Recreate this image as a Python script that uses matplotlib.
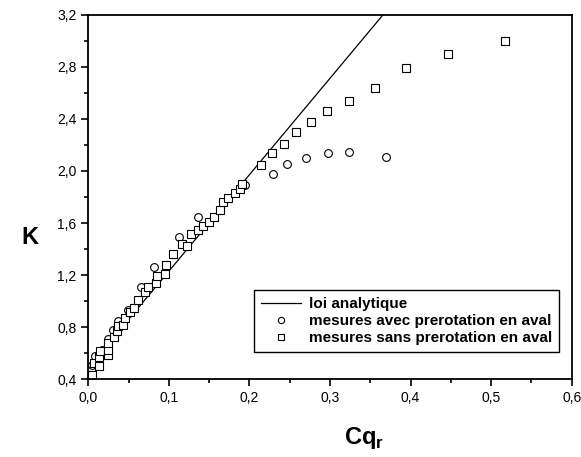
import numpy as np
import matplotlib
matplotlib.use("Agg")
import matplotlib.pyplot as plt
from matplotlib.ticker import MultipleLocator, FuncFormatter

plt.rcParams['font.family'] = ['Liberation Sans', 'DejaVu Sans']

# analytic law (straight line)
line_cq = [0.0, 0.366]
line_k = [0.49, 3.2]

# measurements with downstream prerotation (circles)
avec_cq = [0.005, 0.0083, 0.0166, 0.025, 0.031, 0.037, 0.049, 0.065, 0.082,
           0.113, 0.1365, 0.194, 0.2295, 0.246, 0.270, 0.297, 0.323, 0.369]
avec_k = [0.507, 0.576, 0.627, 0.71, 0.78, 0.844, 0.934, 1.108, 1.266,
          1.49, 1.65, 1.89, 1.98, 2.05, 2.097, 2.136, 2.143, 2.105]

# measurements without downstream prerotation (squares)
sans_cq = [0.004, 0.0074, 0.0133, 0.0133, 0.0145, 0.024, 0.024, 0.025, 0.032,
           0.035, 0.037, 0.0434, 0.0455, 0.052, 0.057, 0.062, 0.070, 0.0745,
           0.0836, 0.085, 0.095, 0.097, 0.1055, 0.116, 0.123, 0.128, 0.136,
           0.142, 0.150, 0.156, 0.163, 0.1675, 0.174, 0.1816, 0.188, 0.191,
           0.214, 0.228, 0.243, 0.258, 0.276, 0.296, 0.323, 0.356, 0.394,
           0.447, 0.517]
sans_k = [0.435, 0.525, 0.50, 0.571, 0.614, 0.59, 0.627, 0.68, 0.725,
          0.77, 0.806, 0.82, 0.87, 0.92, 0.947, 1.01, 1.07, 1.11,
          1.14, 1.195, 1.21, 1.28, 1.36, 1.44, 1.425, 1.515, 1.545,
          1.578, 1.61, 1.65, 1.70, 1.765, 1.795, 1.833, 1.86, 1.90,
          2.046, 2.138, 2.21, 2.30, 2.373, 2.46, 2.54, 2.64, 2.787,
          2.895, 3.0]

fig = plt.figure(figsize=(5.81, 4.57), dpi=100)
ax = fig.add_axes([0.152, 0.170, 0.832, 0.798])

ax.plot(line_cq, line_k, color='black', lw=0.9, label='loi analytique')
ax.plot(avec_cq, avec_k, 'o', ms=5.6, mfc='white', mec='black', mew=0.8,
        label='mesures avec prerotation en aval')
ax.plot(sans_cq, sans_k, 's', ms=5.6, mfc='white', mec='black', mew=0.8,
        label='mesures sans prerotation en aval')

ax.set_xlim(0, 0.6)
ax.set_ylim(0.4, 3.2)
ax.xaxis.set_major_locator(MultipleLocator(0.1))
ax.xaxis.set_minor_locator(MultipleLocator(0.05))
ax.yaxis.set_major_locator(MultipleLocator(0.4))
ax.yaxis.set_minor_locator(MultipleLocator(0.2))
comma = FuncFormatter(lambda v, p: f'{v:.1f}'.replace('.', ','))
ax.xaxis.set_major_formatter(comma)
ax.yaxis.set_major_formatter(comma)
ax.tick_params(which='major', direction='out', length=5, width=1.2,
               labelsize=10, top=False, right=False)
ax.tick_params(which='minor', direction='out', length=3, width=1.2,
               top=False, right=False)
for s in ax.spines.values():
    s.set_linewidth(1.3)

ax.set_xlabel(r'Cq$_\mathregular{r}$', fontsize=17, fontweight='bold',
              va='center')
ax.xaxis.set_label_coords(0.57, -0.16)
ax.set_ylabel('K', fontsize=17, fontweight='bold', rotation=0,
              va='center', ha='center')
ax.yaxis.set_label_coords(-0.12, 0.388)

leg = ax.legend(loc='lower right', bbox_to_anchor=(0.973, 0.075),
                borderaxespad=0, fancybox=False, edgecolor='black',
                framealpha=1, handlelength=2.6, handletextpad=0.5,
                borderpad=0.45, labelspacing=0.2,
                prop={'weight': 'bold', 'size': 11})
leg.get_frame().set_linewidth(1.0)
for h in leg.legend_handles[1:]:
    h.set_markersize(4.5)

fig.savefig('out.png', dpi=100)
